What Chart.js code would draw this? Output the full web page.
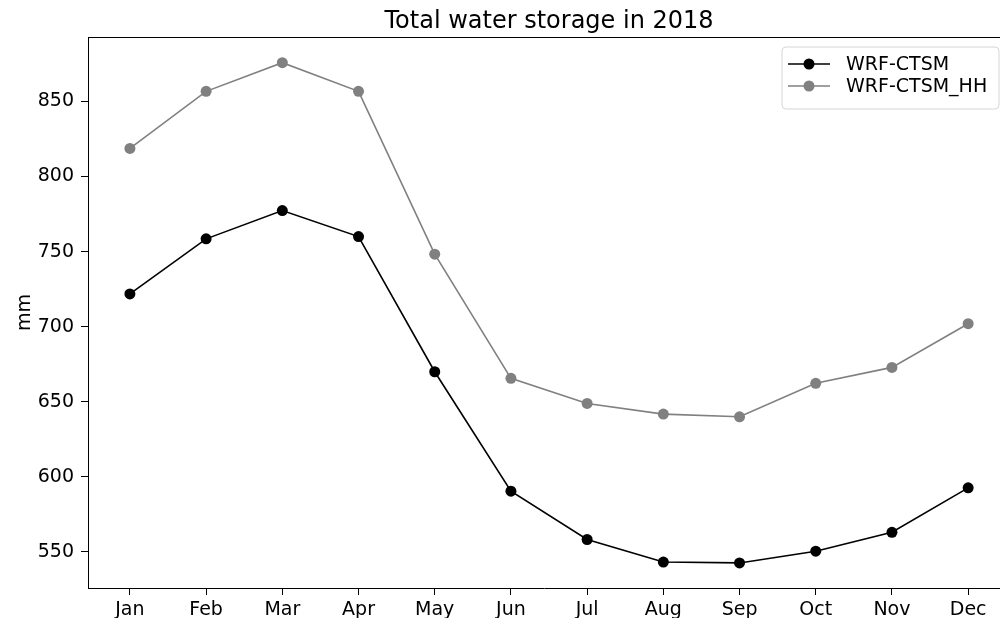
<!DOCTYPE html>
<html>
<head>
<meta charset="utf-8">
<title>Total water storage in 2018</title>
<script src="https://cdn.jsdelivr.net/npm/chart.js@4/dist/chart.umd.min.js"></script>
<style>
  html, body { margin: 0; padding: 0; background: #fff; }
  #wrap { width: 1000px; height: 618px; position: relative; }
</style>
</head>
<body>
<div id="wrap"><canvas id="chart" width="1000" height="618"></canvas></div>
<script>
// Monthly total water storage (mm), 2018
const months = ['Jan', 'Feb', 'Mar', 'Apr', 'May', 'Jun', 'Jul', 'Aug', 'Sep', 'Oct', 'Nov', 'Dec'];
const wrfCtsm   = [721.8, 758.5, 777.3, 760.0, 670.0, 590.5, 558.3, 543.3, 542.7, 550.5, 563.1, 592.7];
const wrfCtsmHH = [818.7, 856.7, 875.8, 856.7, 748.3, 665.6, 648.9, 641.8, 640.0, 662.3, 672.9, 702.0];
const yTicks = [550, 600, 650, 700, 750, 800, 850];
const titleText = 'Total water storage in 2018';
const yLabel = 'mm';

const FONT = 'DejaVu Sans';
const TICK_SIZE = 19;

const toPoints = vals => vals.map((v, i) => ({ x: i, y: v }));

// Frame, title, y-axis label and in-plot legend
const decorations = {
  id: 'decorations',
  afterDraw(chart) {
    const { ctx, chartArea, scales } = chart;
    ctx.save();

    // top spine
    ctx.strokeStyle = '#000';
    ctx.lineWidth = 1;
    ctx.beginPath();
    ctx.moveTo(chartArea.left, chartArea.top + 0.5);
    ctx.lineTo(chartArea.right, chartArea.top + 0.5);
    ctx.stroke();

    // title centred over the axes
    ctx.fillStyle = '#000';
    ctx.font = `24px "${FONT}"`;
    ctx.textAlign = 'center';
    ctx.textBaseline = 'alphabetic';
    ctx.fillText(titleText, scales.x.getPixelForValue(5.5), 28);

    // y-axis label
    ctx.save();
    ctx.translate(25, (chartArea.top + chartArea.bottom) / 2);
    ctx.rotate(-Math.PI / 2);
    ctx.font = `${TICK_SIZE}px "${FONT}"`;
    ctx.textAlign = 'center';
    ctx.textBaseline = 'middle';
    ctx.fillText(yLabel, 0, 0);
    ctx.restore();

    // legend box
    const bx = 782, by = 47, bw = 217, bh = 62, r = 4;
    ctx.beginPath();
    ctx.moveTo(bx + r, by);
    ctx.lineTo(bx + bw - r, by);
    ctx.arcTo(bx + bw, by, bx + bw, by + r, r);
    ctx.lineTo(bx + bw, by + bh - r);
    ctx.arcTo(bx + bw, by + bh, bx + bw - r, by + bh, r);
    ctx.lineTo(bx + r, by + bh);
    ctx.arcTo(bx, by + bh, bx, by + bh - r, r);
    ctx.lineTo(bx, by + r);
    ctx.arcTo(bx, by, bx + r, by, r);
    ctx.closePath();
    ctx.fillStyle = 'rgba(255,255,255,0.8)';
    ctx.fill();
    ctx.strokeStyle = '#d6d6d6';
    ctx.lineWidth = 1;
    ctx.stroke();

    const rows = [64, 86];
    chart.data.datasets.forEach((ds, i) => {
      const y = rows[i];
      ctx.strokeStyle = ds.borderColor;
      ctx.lineWidth = ds.borderWidth;
      ctx.beginPath();
      ctx.moveTo(788, y);
      ctx.lineTo(830, y);
      ctx.stroke();
      ctx.fillStyle = ds.pointBackgroundColor;
      ctx.beginPath();
      ctx.arc(809, y, ds.pointRadius, 0, Math.PI * 2);
      ctx.fill();
      ctx.fillStyle = '#000';
      ctx.font = `${TICK_SIZE}px "${FONT}"`;
      ctx.textAlign = 'left';
      ctx.textBaseline = 'middle';
      ctx.fillText(ds.label, 846, y + 1);
    });

    ctx.restore();
  }
};

const axisCommon = {
  grid: { display: true, drawOnChartArea: false, drawTicks: true, tickLength: 7, color: '#000', tickWidth: 1 },
  border: { display: true, color: '#000', width: 1 },
  ticks: { color: '#000', font: { family: FONT, size: TICK_SIZE } }
};

new Chart(document.getElementById('chart'), {
  type: 'line',
  data: {
    datasets: [
      {
        label: 'WRF-CTSM',
        data: toPoints(wrfCtsm),
        borderColor: '#000000',
        backgroundColor: '#000000',
        pointBackgroundColor: '#000000',
        pointBorderWidth: 0,
        borderWidth: 1.6,
        pointRadius: 5.5,
        tension: 0
      },
      {
        label: 'WRF-CTSM_HH',
        data: toPoints(wrfCtsmHH),
        borderColor: '#808080',
        backgroundColor: '#808080',
        pointBackgroundColor: '#808080',
        pointBorderWidth: 0,
        borderWidth: 1.6,
        pointRadius: 5.5,
        tension: 0
      }
    ]
  },
  options: {
    responsive: false,
    animation: false,
    devicePixelRatio: 1,
    events: [],
    layout: { autoPadding: false, padding: { top: 37, right: 0, bottom: 0, left: 0 } },
    plugins: {
      legend: { display: false },
      title: { display: false },
      tooltip: { enabled: false }
    },
    scales: {
      x: {
        type: 'linear',
        min: -0.55,
        max: 11.418,
        ...axisCommon,
        ticks: {
          ...axisCommon.ticks,
          padding: 4,
          autoSkip: false,
          maxRotation: 0,
          callback: v => months[v]
        },
        afterBuildTicks: scale => { scale.ticks = months.map((m, i) => ({ value: i })); },
        afterFit: scale => {
          scale.height = 30;
          scale.paddingLeft = 0;
          scale.paddingRight = 0;
        }
      },
      y: {
        type: 'linear',
        min: 526,
        max: 892.9,
        ...axisCommon,
        ticks: {
          ...axisCommon.ticks,
          padding: 7
        },
        afterBuildTicks: scale => { scale.ticks = yTicks.map(v => ({ value: v })); },
        afterFit: scale => {
          scale.width = 88;
          scale.paddingTop = 0;
          scale.paddingBottom = 0;
        }
      }
    }
  },
  plugins: [decorations]
});
</script>
</body>
</html>
